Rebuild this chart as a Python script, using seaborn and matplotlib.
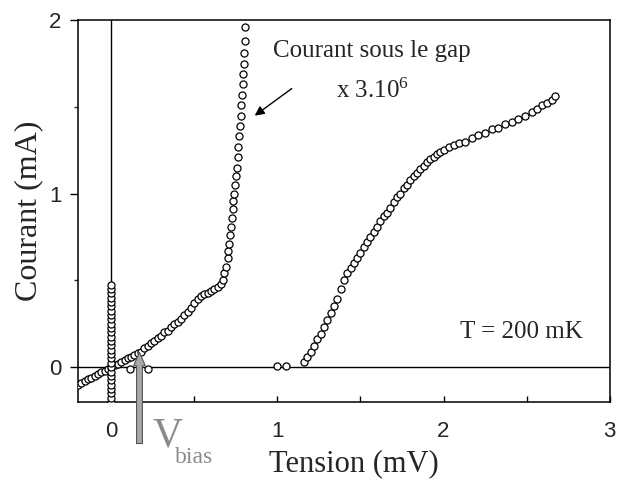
import numpy as np
import pandas as pd
import matplotlib
matplotlib.use("Agg")
import matplotlib.pyplot as plt
import seaborn as sns
from matplotlib.ticker import MultipleLocator

# ── Données ──────────────────────────────────────────────────
# courant sous le gap (x 3.10^6)
v_gap = [-0.20, -0.18, -0.16, -0.14, -0.12, -0.10, -0.08, -0.06, -0.04, -0.02,
         0.00, 0.02, 0.04, 0.06, 0.08, 0.10, 0.12, 0.14, 0.16, 0.18,
         0.20, 0.22, 0.24, 0.26, 0.28, 0.30, 0.32, 0.34, 0.36, 0.38,
         0.40, 0.42, 0.44, 0.46, 0.48, 0.50, 0.52, 0.54, 0.56, 0.58,
         0.60, 0.62, 0.64, 0.66, 0.67, 0.68, 0.69, 0.70, 0.705, 0.71,
         0.715, 0.72, 0.725, 0.73, 0.735, 0.74, 0.745, 0.75, 0.755, 0.76,
         0.765, 0.77, 0.775, 0.78, 0.784, 0.788, 0.791, 0.794, 0.797, 0.80,
         0.803, 0.806]
i_gap = [-0.10, -0.09, -0.08, -0.07, -0.06, -0.05, -0.04, -0.03, -0.02, -0.01,
         0.00, 0.01, 0.02, 0.03, 0.04, 0.05, 0.06, 0.07, 0.08, 0.09,
         0.11, 0.12, 0.14, 0.15, 0.17, 0.18, 0.20, 0.21, 0.23, 0.25,
         0.26, 0.28, 0.30, 0.32, 0.34, 0.37, 0.39, 0.41, 0.42, 0.43,
         0.44, 0.45, 0.46, 0.48, 0.50, 0.54, 0.58, 0.63, 0.67, 0.71,
         0.76, 0.81, 0.86, 0.91, 0.96, 1.00, 1.05, 1.10, 1.15, 1.21,
         1.27, 1.33, 1.39, 1.45, 1.51, 1.57, 1.63, 1.69, 1.75, 1.81,
         1.88, 1.96]

# branche supraconductrice à V = 0
v_super = [0.0] * 28
i_super = [-0.20, -0.175, -0.15, -0.125, -0.10, -0.075, -0.05, -0.025, 0.00, 0.025,
           0.05, 0.075, 0.10, 0.125, 0.15, 0.175, 0.20, 0.225, 0.25, 0.275,
           0.30, 0.325, 0.35, 0.375, 0.40, 0.425, 0.45, 0.475]

# points isolés près de zéro
v_zero = [0.11, 0.22, 1.00, 1.05]
i_zero = [-0.01, -0.01, 0.005, 0.005]

# caractéristique au-dessus du gap
v_main = [1.16, 1.18, 1.20, 1.22, 1.24, 1.26, 1.28, 1.30, 1.32, 1.34,
          1.36, 1.38, 1.40, 1.42, 1.44, 1.46, 1.48, 1.50, 1.52, 1.54,
          1.56, 1.58, 1.60, 1.62, 1.64, 1.66, 1.68, 1.70, 1.72, 1.74,
          1.76, 1.78, 1.80, 1.82, 1.84, 1.86, 1.88, 1.90, 1.92, 1.94,
          1.96, 1.98, 2.00, 2.03, 2.06, 2.09, 2.13, 2.17, 2.21, 2.25,
          2.29, 2.33, 2.37, 2.41, 2.45, 2.49, 2.53, 2.56, 2.59, 2.62,
          2.65, 2.67]
i_main = [0.03, 0.06, 0.09, 0.12, 0.16, 0.19, 0.23, 0.27, 0.31, 0.35,
          0.39, 0.45, 0.50, 0.54, 0.57, 0.60, 0.63, 0.66, 0.69, 0.72,
          0.75, 0.78, 0.81, 0.84, 0.87, 0.89, 0.92, 0.95, 0.98, 1.00,
          1.03, 1.05, 1.08, 1.10, 1.12, 1.14, 1.16, 1.18, 1.20, 1.21,
          1.23, 1.24, 1.25, 1.27, 1.28, 1.29, 1.30, 1.32, 1.34, 1.35,
          1.37, 1.38, 1.40, 1.41, 1.43, 1.45, 1.47, 1.49, 1.51, 1.52,
          1.54, 1.56]

df = pd.concat([
    pd.DataFrame({"V": v_gap, "I": i_gap}),
    pd.DataFrame({"V": v_super, "I": i_super}),
    pd.DataFrame({"V": v_zero, "I": i_zero}),
    pd.DataFrame({"V": v_main, "I": i_main}),
], ignore_index=True)

# ── Figure ───────────────────────────────────────────────────
sns.set_theme(style="ticks")
plt.rcParams["font.family"] = ["Liberation Sans", "DejaVu Sans"]
plt.rcParams["mathtext.fontset"] = "custom"
plt.rcParams["mathtext.rm"] = "Liberation Serif"
serif = ["Liberation Serif", "DejaVu Serif"]

fig = plt.figure(figsize=(6.19, 4.79), dpi=100)
ax = fig.add_axes([0.126, 0.161, 0.859, 0.797])

ax.axhline(0, color="black", lw=1.0, zorder=1)
ax.axvline(0, color="black", lw=1.0, zorder=1)

sns.scatterplot(data=df, x="V", y="I", ax=ax, marker="o", s=26,
                facecolor="white", edgecolor="black", linewidth=0.9, zorder=3)

ax.set_xlim(-0.2, 3.0)
ax.set_ylim(-0.2, 2.0)
ax.xaxis.set_major_locator(MultipleLocator(1))
ax.xaxis.set_minor_locator(MultipleLocator(0.5))
ax.yaxis.set_major_locator(MultipleLocator(1))
ax.yaxis.set_minor_locator(MultipleLocator(0.5))
ax.tick_params(axis="x", which="both", direction="in", length=4, width=1,
               labelsize=16, pad=14, color="black")
ax.tick_params(axis="y", which="major", direction="out", length=6, width=1,
               labelsize=16, pad=6, color="black")
ax.tick_params(axis="y", which="minor", direction="out", length=3, width=1)
for s in ax.spines.values():
    s.set_linewidth(1.1)
    s.set_color("black")

ax.set_xlabel("Tension (mV)", family=serif, fontsize=22, labelpad=5)
ax.set_ylabel("Courant (mA)", family=serif, fontsize=23, labelpad=4)
ax.xaxis.label.set_x(0.518)

# annotations
ax.text(1.57, 1.82, "Courant sous le gap", family=serif, fontsize=18,
        ha="center", va="center")
ax.text(1.57, 1.59, r"x 3.10$\mathrm{^{6}}$", family=serif, fontsize=18,
        ha="center", va="center")
ax.annotate("", xy=(0.85, 1.44), xytext=(1.10, 1.615),
            arrowprops=dict(arrowstyle="-|>", color="black", lw=1.0,
                            mutation_scale=14))
ax.text(2.47, 0.2, "T = 200 mK", family=serif, fontsize=18,
        ha="center", va="center")

# flèche V_bias
ax.annotate("", xy=(0.17, 0.085), xytext=(0.17, -0.44),
            arrowprops=dict(arrowstyle="simple,head_width=0.7,head_length=0.8,tail_width=0.35",
                            fc="#a8a8a8", ec="#555555", lw=0.8, shrinkA=0, shrinkB=0),
            annotation_clip=False)
ax.text(0.25, -0.40, "V", family=serif, fontsize=30, color="#8a8a8a",
        ha="left", va="center", clip_on=False)
ax.text(0.385, -0.52, "bias", family=serif, fontsize=17, color="#8a8a8a",
        ha="left", va="center", clip_on=False)

plt.savefig("out.png", dpi=100)
